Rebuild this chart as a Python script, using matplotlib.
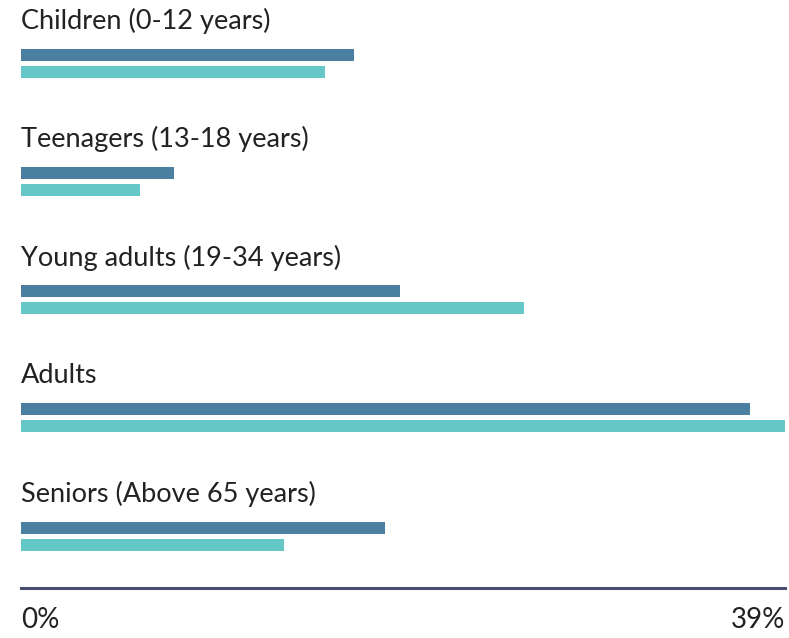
import numpy as np
import matplotlib.pyplot as plt

# Data (percent)
categories = ["Children (0-12 years)", "Teenagers (13-18 years)",
              "Young adults (19-34 years)", "Adults", "Seniors (Above 65 years)"]
series_a = [17.0, 7.8, 19.35, 37.2, 18.6]
series_b = [15.5, 6.1, 25.7, 39.0, 13.4]
x_max = 39
tick_labels = ["0%", "39%"]

dark_col = "#4b7f9f"
light_col = "#65c8c7"
axis_col = "#484d70"
text_col = "#222222"

plt.rcParams["font.family"] = ["Lato", "DejaVu Sans"]

fig = plt.figure(figsize=(7.89, 6.38), dpi=100)
ax = fig.add_axes([21 / 789, 50 / 638, 764 / 789, 588 / 638])

# one category unit = ~118 px in the reference
unit = 118.25
y = np.arange(len(categories))
bar_h = 12 / unit
off = 8.5 / unit

ax.barh(y - off, series_a, height=bar_h, color=dark_col)
ax.barh(y + off, series_b, height=bar_h, color=light_col)

for yi, name in zip(y, categories):
    ax.text(0, yi - 42 / unit, name, ha="left", va="center",
            fontsize=19.5, color=text_col)

ax.set_xlim(0, x_max)
ax.set_ylim((588 - 63) / unit, -63 / unit)

for s in ["top", "left", "right"]:
    ax.spines[s].set_visible(False)
ax.spines["bottom"].set_color(axis_col)
ax.spines["bottom"].set_linewidth(2.2)
ax.set_yticks([])
ax.set_xticks([])

# end labels under the axis line
ax.text(0, -0.055, tick_labels[0], transform=ax.transAxes, ha="left",
        va="center", fontsize=20, color=text_col)
ax.text(1, -0.055, tick_labels[1], transform=ax.transAxes, ha="right",
        va="center", fontsize=20, color=text_col)

fig.savefig("out.png", dpi=100)
